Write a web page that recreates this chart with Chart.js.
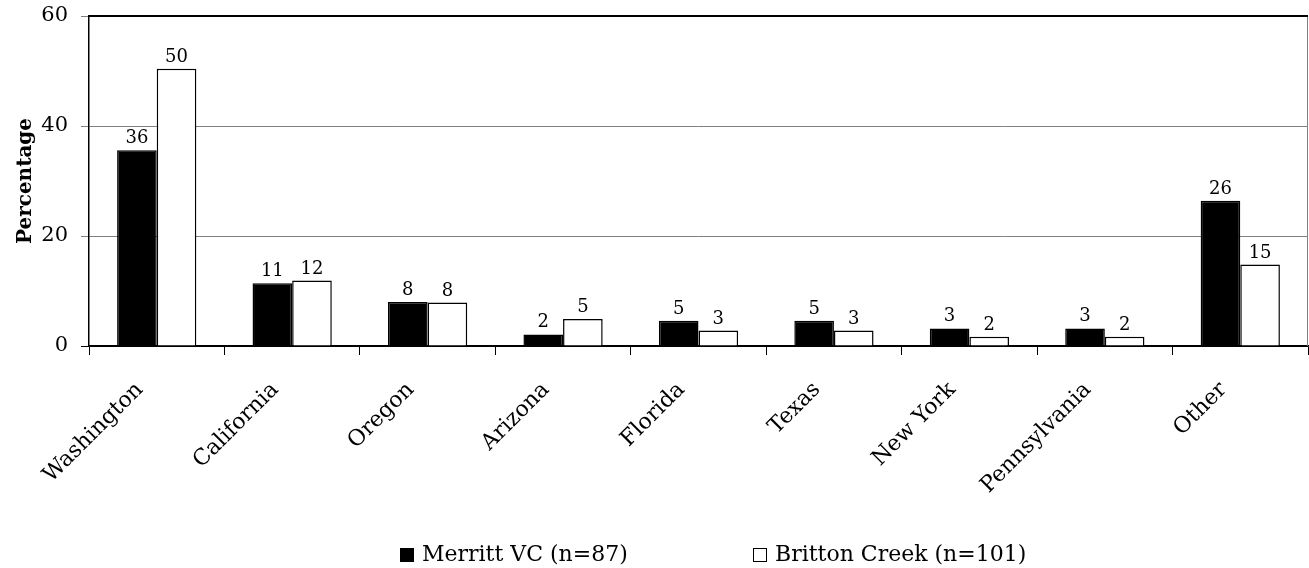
<!DOCTYPE html>
<html>
<head>
  <title>Visitor origin by state</title>
  <style>
    body { margin: 0; background: #fff; }
    #wrap { position: relative; width: 1309px; height: 568px; }
    .leg {
      position: absolute; top: 541px; height: 26px; line-height: 26px;
      font-family: "DejaVu Serif", serif; font-size: 22px; color: #000; white-space: nowrap;
    }
    .leg i {
      display: inline-block; width: 12px; height: 12px; border: 1px solid #000;
      margin-right: 8px; vertical-align: -1px;
    }
  </style>
</head>
<body>
<div id="wrap">
  <canvas id="stateChart" width="1309" height="568"></canvas>
  <div class="leg" id="leg0" style="left:400px"></div>
  <div class="leg" id="leg1" style="left:753px"></div>
</div>

<script src="https://cdn.jsdelivr.net/npm/chart.js"></script>
<script>
  const states = ['Washington', 'California', 'Oregon', 'Arizona', 'Florida', 'Texas', 'New York', 'Pennsylvania', 'Other'];
  const merritt = [35.6, 11.4, 8.0, 2.1, 4.6, 4.6, 3.2, 3.2, 26.4];
  const britton = [50.4, 11.9, 7.9, 4.9, 2.8, 2.8, 1.7, 1.7, 14.8];
  const yTicks = [0, 20, 40, 60];

  const serif = '"DejaVu Serif", serif';

  // value labels above each bar
  const barLabels = {
    id: 'barLabels',
    afterDatasetsDraw(chart) {
      const ctx = chart.ctx;
      ctx.save();
      ctx.font = '18px ' + serif;
      ctx.fillStyle = '#000';
      ctx.textAlign = 'center';
      ctx.textBaseline = 'alphabetic';
      chart.data.datasets.forEach((ds, i) => {
        chart.getDatasetMeta(i).data.forEach((bar, j) => {
          ctx.fillText(Math.round(ds.data[j]), bar.x, bar.y - 7);
        });
      });
      ctx.restore();
    }
  };

  // top (black) and right (grey) edges of the plot
  const plotBorder = {
    id: 'plotBorder',
    afterDraw(chart) {
      const a = chart.chartArea;
      const ctx = chart.ctx;
      ctx.save();
      ctx.lineWidth = 1;
      ctx.strokeStyle = '#808080';
      ctx.beginPath();
      ctx.moveTo(a.right - 0.5, a.top);
      ctx.lineTo(a.right - 0.5, a.bottom);
      ctx.stroke();
      ctx.lineWidth = 2;
      ctx.strokeStyle = '#000';
      ctx.beginPath();
      ctx.moveTo(a.left, a.top);
      ctx.lineTo(a.right, a.top);
      ctx.stroke();
      ctx.restore();
    }
  };

  const chart = new Chart(document.getElementById('stateChart'), {
    type: 'bar',
    data: {
      labels: states,
      datasets: [
        {
          label: 'Merritt VC (n=87)',
          data: merritt,
          backgroundColor: '#000',
          borderColor: '#000',
          borderWidth: 1.5
        },
        {
          label: 'Britton Creek (n=101)',
          data: britton,
          backgroundColor: '#fff',
          borderColor: '#000',
          borderWidth: 1.5
        }
      ]
    },
    plugins: [barLabels, plotBorder],
    options: {
      responsive: false,
      animation: false,
      layout: { padding: { top: 16, right: 1, bottom: 0, left: 0 } },
      datasets: { bar: { categoryPercentage: 0.585, barPercentage: 1.0 } },
      plugins: {
        tooltip: { enabled: false },
        legend: { display: false }
      },
      scales: {
        x: {
          afterFit(scale) {
            scale.height = 222;
            scale.paddingLeft = 0;
            scale.paddingRight = 0;
          },
          grid: { drawOnChartArea: false, color: '#000', tickLength: 9, lineWidth: 1 },
          border: { color: '#000', width: 1.5 },
          ticks: {
            color: '#000',
            font: { family: serif, size: 22 },
            minRotation: 45,
            maxRotation: 45,
            labelOffset: -17,
            padding: 22
          }
        },
        y: {
          min: 0,
          max: 60,
          afterFit(scale) {
            scale.width = 89;
            scale.paddingTop = 0;
            scale.paddingBottom = 0;
          },
          afterBuildTicks(axis) { axis.ticks = yTicks.map(v => ({ value: v })); },
          grid: {
            color: ctx => (ctx.tick && ctx.tick.value === 0) ? '#000' : '#808080',
            tickLength: 8,
            lineWidth: 1
          },
          border: { color: '#000', width: 1.5 },
          ticks: {
            color: '#000',
            font: { family: serif, size: 21 },
            padding: 13
          },
          title: {
            display: true,
            text: 'Percentage',
            color: '#000',
            font: { family: serif, size: 20, weight: 'bold' },
            padding: { top: 14, bottom: 0 }
          }
        }
      }
    }
  });

  // legend as text under the chart, built from the datasets
  chart.data.datasets.forEach((ds, i) => {
    const el = document.getElementById('leg' + i);
    const box = document.createElement('i');
    box.style.background = ds.backgroundColor;
    el.appendChild(box);
    el.appendChild(document.createTextNode(ds.label));
  });
</script>
</body>
</html>
